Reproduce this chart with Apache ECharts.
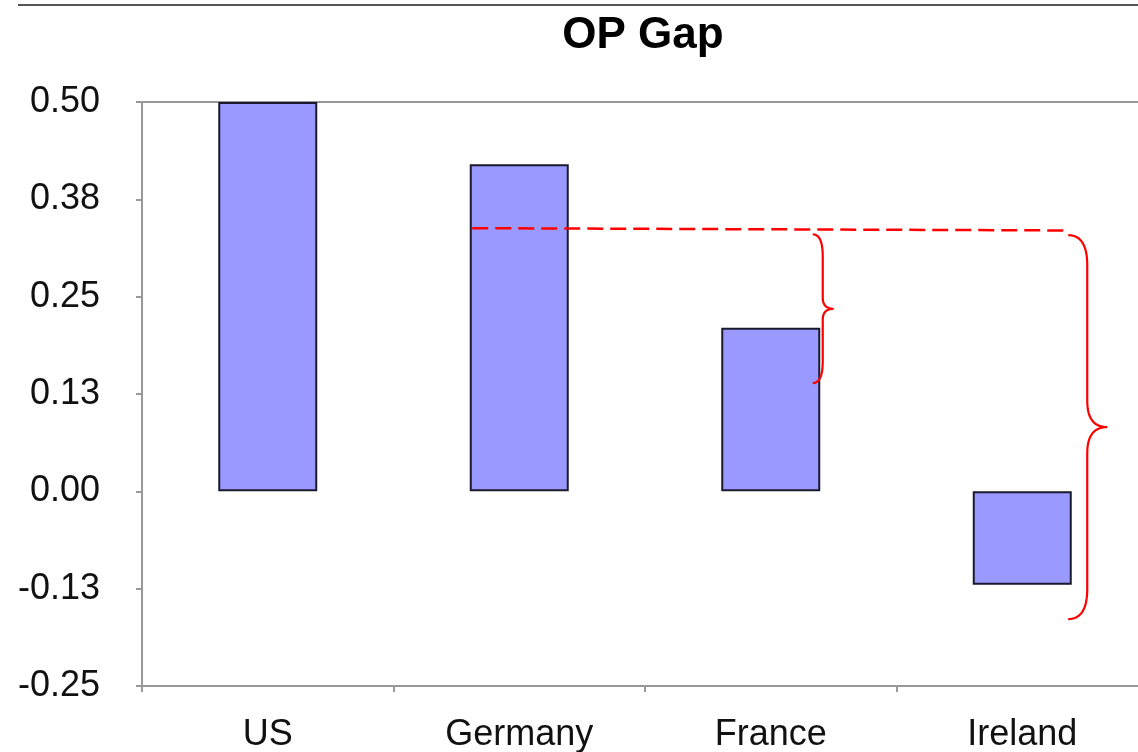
<!DOCTYPE html>
<html>
<head>
<meta charset="utf-8">
<script src="https://cdn.jsdelivr.net/npm/echarts@6/dist/echarts.min.js"></script>
<style>
html,body{margin:0;padding:0;background:#fff;}
#chart{width:1138px;height:752px;}
</style>
</head>
<body>
<div id="chart"></div>
<script>
// ---- data ----
var categories = ['US', 'Germany', 'France', 'Ireland'];
var opGap = [0.50, 0.42, 0.21, -0.12];
// annotation values (in data units)
var dashedLevel = [0.338, 0.335];         // start / end of the red dashed line
var smallBrace = [0.33, 0.139];          // top / bottom next to France
var bigBrace = [0.329, -0.164];          // top / bottom next to Ireland

var FONT = "'Liberation Sans', Arial, sans-serif";
var chart = echarts.init(document.getElementById('chart'));

chart.setOption({
  animation: false,
  backgroundColor: '#fff',
  title: {
    text: 'OP Gap',
    left: 638,
    top: 9,
    textAlign: 'center',
    textStyle: { fontFamily: FONT, fontSize: 44, fontWeight: 'bold', color: '#000' }
  },
  grid: {
    left: 142, width: 1006, top: 102, height: 584,
    outerBoundsMode: 'none', containLabel: false,
    show: true, borderColor: '#999', borderWidth: 2, backgroundColor: 'transparent'
  },
  xAxis: {
    type: 'category',
    data: categories,
    axisLine: { onZero: false, lineStyle: { color: '#999', width: 2 } },
    axisTick: { show: true, length: 6, lineStyle: { color: '#999', width: 2 } },
    axisLabel: { fontFamily: FONT, fontSize: 36, color: '#111', margin: 31 }
  },
  yAxis: {
    type: 'value',
    min: -0.25, max: 0.5, interval: 0.125,
    axisLine: { show: true, lineStyle: { color: '#999', width: 2 } },
    axisTick: { show: true, length: 6, lineStyle: { color: '#999', width: 2 } },
    splitLine: { show: false },
    axisLabel: {
      fontFamily: FONT, fontSize: 36, color: '#111', margin: 42,
      formatter: function (v) { return v.toFixed(2); }
    }
  },
  series: [{
    type: 'bar',
    data: opGap,
    barWidth: 99,
    itemStyle: { color: '#9999ff', borderColor: '#1a1a2e', borderWidth: 2 }
  }]
});

function px(cat, val) { return chart.convertToPixel({ gridIndex: 0 }, [cat, val]); }

function quad(pts, p0, c, p1) {
  for (var i = 1; i <= 12; i++) {
    var t = i / 12, u = 1 - t;
    pts.push([u * u * p0[0] + 2 * u * t * c[0] + t * t * p1[0],
              u * u * p0[1] + 2 * u * t * c[1] + t * t * p1[1]]);
  }
}
function bracePoints(xEnd, xSpine, xTip, yTop, yBot, rEnd, rMid) {
  var yMid = (yTop + yBot) / 2;
  var pts = [[xEnd, yTop]];
  quad(pts, [xEnd, yTop], [xSpine, yTop], [xSpine, yTop + rEnd]);
  pts.push([xSpine, yMid - rMid]);
  quad(pts, [xSpine, yMid - rMid], [xSpine, yMid], [xTip, yMid]);
  quad(pts, [xTip, yMid], [xSpine, yMid], [xSpine, yMid + rMid]);
  pts.push([xSpine, yBot - rEnd]);
  quad(pts, [xSpine, yBot - rEnd], [xSpine, yBot], [xEnd, yBot]);
  return pts;
}

var g0 = px('Germany', dashedLevel[0]);
var g1 = px('Ireland', dashedLevel[1]);
var fTop = px('France', smallBrace[0]);
var fBot = px('France', smallBrace[1]);
var iTop = px('Ireland', bigBrace[0]);
var iBot = px('Ireland', bigBrace[1]);

chart.setOption({
  graphic: [
    { type: 'line', z: 100, shape: { x1: 18, y1: 5, x2: 1138, y2: 5 }, style: { stroke: '#555', lineWidth: 2 } },
    { type: 'line', z: 100, shape: { x1: g0[0] - 47, y1: g0[1], x2: g1[0] + 48, y2: g1[1] },
      style: { stroke: '#ff0000', lineWidth: 2.5, lineDash: [16, 7] } },
    { type: 'polyline', z: 100, shape: { points: bracePoints(fTop[0] + 42, fTop[0] + 52, fTop[0] + 63, fTop[1], fBot[1], 22, 11) },
      style: { stroke: '#ff0000', lineWidth: 2.2, fill: null } },
    { type: 'polyline', z: 100, shape: { points: bracePoints(iTop[0] + 46, iTop[0] + 65, iTop[0] + 85, iTop[1], iBot[1], 30, 26) },
      style: { stroke: '#ff0000', lineWidth: 2.2, fill: null } }
  ]
});
</script>
</body>
</html>
